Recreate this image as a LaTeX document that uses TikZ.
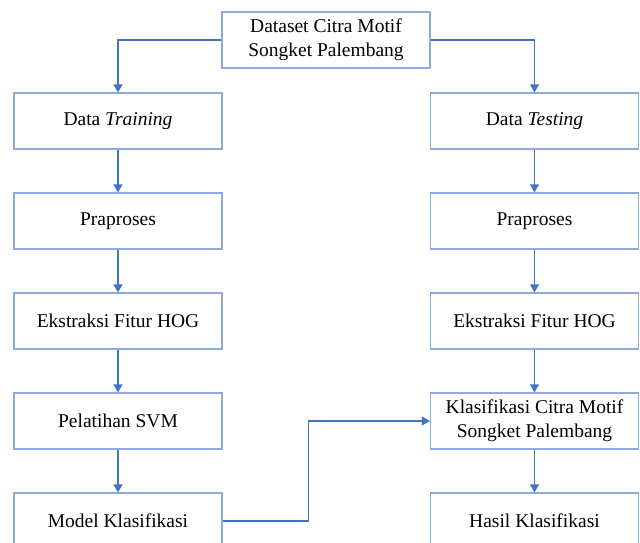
\documentclass[tikz,border=0pt]{standalone}
\usepackage{fontspec}
\setmainfont{Liberation Serif}
\usetikzlibrary{arrows.meta}
\definecolor{boxline}{HTML}{8FAADC}
\definecolor{arr}{HTML}{4472C4}
\begin{document}
\begin{tikzpicture}[x=1pt,y=-1pt,
 box/.style={draw=boxline, line width=1.3pt, minimum width=208pt, minimum height=56pt, inner sep=0pt, align=center, font=\fontsize{19.5}{24}\selectfont},
 conn/.style={draw=arr, line width=1.3pt, -{Triangle[length=8pt,width=9pt]}}]
\useasboundingbox (0,0) rectangle (640,542);
\node[box] (ds) at (326,40) {Dataset Citra Motif\\Songket Palembang};
\node[box] (dtr) at (118,121) {Data \textit{Training}};
\node[box] (pl) at (118,221) {Praproses};
\node[box] (el) at (118,321) {Ekstraksi Fitur HOG};
\node[box] (ps) at (118,421) {Pelatihan SVM};
\node[box] (mk) at (118,521) {Model Klasifikasi};
\node[box] (dts) at (534.5,121) {Data \textit{Testing}};
\node[box] (pr) at (534.5,221) {Praproses};
\node[box] (er) at (534.5,321) {Ekstraksi Fitur HOG};
\node[box] (kl) at (534.5,421) {Klasifikasi Citra Motif\\Songket Palembang};
\node[box] (hk) at (534.5,521) {Hasil Klasifikasi};
\draw[conn] (ds.west) -| (dtr.north);
\draw[conn] (ds.east) -| (dts.north);
\draw[conn] (dtr) -- (pl);
\draw[conn] (pl) -- (el);
\draw[conn] (el) -- (ps);
\draw[conn] (ps) -- (mk);
\draw[conn] (dts) -- (pr);
\draw[conn] (pr) -- (er);
\draw[conn] (er) -- (kl);
\draw[conn] (kl) -- (hk);
\draw[conn] (mk.east) -- ++(86,0) |- (kl.west);
\end{tikzpicture}
\end{document}
